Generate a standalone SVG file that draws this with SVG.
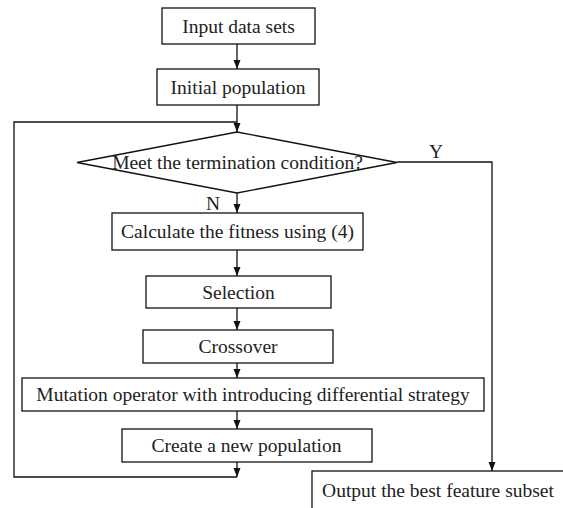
<svg xmlns="http://www.w3.org/2000/svg" width="563" height="508" viewBox="0 0 563 508">
  <style>
    .box { fill: #ffffff; stroke: #111111; stroke-width: 1.3; }
    .lbl { font-family: "Liberation Serif", "Times New Roman", serif; font-size: 19.5px; fill: #222222; text-anchor: middle; }
    .con { fill: none; stroke: #111111; stroke-width: 1.3; }
  </style>
  <defs>
    <marker id="arr" markerUnits="userSpaceOnUse" markerWidth="10" markerHeight="8" refX="9" refY="3.5" orient="auto">
      <path d="M0,0 L9,3.5 L0,7 z" fill="#111111"/>
    </marker>
  </defs>
  <rect width="563" height="508" fill="#ffffff"/>

  <g id="connectors">
    <line class="con" x1="237" y1="44" x2="237" y2="69" marker-end="url(#arr)"/>
    <line class="con" x1="237" y1="105" x2="237" y2="132" marker-end="url(#arr)"/>
    <line class="con" x1="237" y1="193" x2="237" y2="213" marker-end="url(#arr)"/>
    <line class="con" x1="237" y1="250" x2="237" y2="276" marker-end="url(#arr)"/>
    <line class="con" x1="237" y1="308" x2="237" y2="330" marker-end="url(#arr)"/>
    <line class="con" x1="237" y1="363" x2="237" y2="378" marker-end="url(#arr)"/>
    <line class="con" x1="237" y1="411" x2="237" y2="429" marker-end="url(#arr)"/>
    <line class="con" x1="237" y1="462" x2="237" y2="477" marker-end="url(#arr)"/>
    <polyline class="con" points="237,477 14,477 14,122 237,122"/>
    <polyline class="con" points="397,162 492,162 492,471" marker-end="url(#arr)"/>
    <text class="lbl" x="436" y="158">Y</text>
    <text class="lbl" x="213" y="210">N</text>
  </g>

  <g id="input">
    <rect class="box" x="162" y="8" width="153" height="36"/>
    <text class="lbl" x="238.5" y="32.5">Input data sets</text>
  </g>
  <g id="initial">
    <rect class="box" x="157" y="69" width="162" height="36"/>
    <text class="lbl" x="238" y="93.5">Initial population</text>
  </g>
  <g id="decision">
    <polygon class="box" points="237,132 397,162.5 237,193 77,162.5"/>
    <text class="lbl" x="237.5" y="169">Meet the termination condition?</text>
  </g>
  <g id="fitness">
    <rect class="box" x="112" y="213" width="251" height="37"/>
    <text class="lbl" x="237.5" y="238">Calculate the fitness using (4)</text>
  </g>
  <g id="selection">
    <rect class="box" x="146" y="276" width="185" height="32"/>
    <text class="lbl" x="238.5" y="298.5">Selection</text>
  </g>
  <g id="crossover">
    <rect class="box" x="143" y="330" width="190" height="33"/>
    <text class="lbl" x="238" y="353">Crossover</text>
  </g>
  <g id="mutation">
    <rect class="box" x="22" y="378" width="462" height="33"/>
    <text class="lbl" x="253" y="401">Mutation operator with introducing differential strategy</text>
  </g>
  <g id="create">
    <rect class="box" x="122" y="429" width="250" height="33"/>
    <text class="lbl" x="246.5" y="452">Create a new population</text>
  </g>
  <g id="output">
    <rect class="box" x="312" y="471" width="270" height="60"/>
    <text class="lbl" x="438" y="497">Output the best feature subset</text>
  </g>
</svg>
